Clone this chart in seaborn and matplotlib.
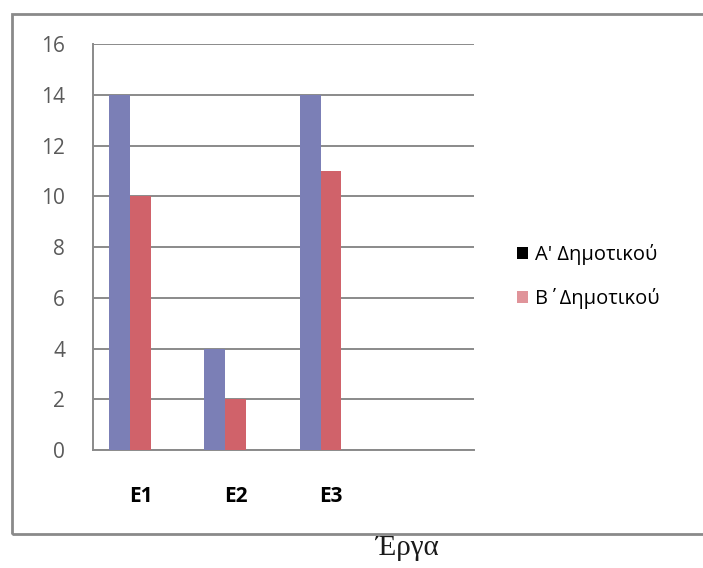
import matplotlib
matplotlib.use("Agg")
import matplotlib.pyplot as plt
import seaborn as sns
import pandas as pd
import numpy as np
from matplotlib.patches import Rectangle, Patch

# Data
categories = ["E1", "E2", "E3", ""]
series_a = [14, 4, 14, np.nan]
series_b = [10, 2, 11, np.nan]
series_c = [np.nan, np.nan, np.nan, np.nan]  # empty third series (keeps its slot)
series_names = ["Α' Δημοτικού", "Β΄Δημοτικού", "-"]
y_ticks = [0, 2, 4, 6, 8, 10, 12, 14, 16]
x_title = "Έργα"

rows = []
for name, vals in zip(series_names, [series_a, series_b, series_c]):
    for cat, v in zip(categories, vals):
        rows.append({"cat": cat, "series": name, "value": v})
df = pd.DataFrame(rows)

sns.set_theme(style="white")
plt.rcParams["font.family"] = ["Open Sans", "DejaVu Sans"]

fig = plt.figure(figsize=(7.03, 5.68), dpi=100)
ax = fig.add_axes([0.1323, 0.2077, 0.5417, 0.7148])

bar_colors = {"Α' Δημοτικού": "#7b7fb6", "Β΄Δημοτικού": "#d0626a", "-": "#ffffff"}
sns.barplot(data=df, x="cat", y="value", hue="series", order=categories,
            hue_order=series_names, palette=bar_colors, saturation=1, width=0.66, gap=0,
            errorbar=None, legend=False, ax=ax, zorder=3, linewidth=0)

ax.set_ylim(0, 16)
ax.set_xlim(-0.5, len(categories) - 0.5)
ax.set_yticks(y_ticks)
ax.set_yticklabels([str(t) for t in y_ticks], fontsize=15, color="#5a5a5a")
ax.yaxis.grid(True, color="#8a8a8a", linewidth=1.4, zorder=0)
ax.set_axisbelow(True)

# Category labels at slot centres, tick marks at slot boundaries
ax.set_xticks(np.arange(-0.5, len(categories), 1.0))
ax.set_xticklabels([])
ax.set_xticks(np.arange(len(categories)), minor=True)
ax.set_xticklabels(categories, minor=True, fontsize=15, fontweight="bold", color="black")
ax.tick_params(axis="x", which="major", length=7, width=1.2, color="#8a8a8a", direction="out")
ax.tick_params(axis="x", which="minor", length=0, pad=26)
ax.tick_params(axis="y", length=8, width=1.2, color="#8a8a8a", direction="out", pad=12)
ax.set_xlabel("")
ax.set_ylabel("")

for side in ["top", "right"]:
    ax.spines[side].set_visible(False)
for side in ["left", "bottom"]:
    ax.spines[side].set_color("#8a8a8a")
    ax.spines[side].set_linewidth(1.4)

# Legend
handles = [Patch(facecolor="black", edgecolor="none"),
           Patch(facecolor="#e0949a", edgecolor="none")]
fig.legend(handles, series_names[:2], loc="center left", bbox_to_anchor=(0.71, 0.513),
           frameon=False, fontsize=14.5, handlelength=0.55, handleheight=0.55,
           handletextpad=0.35, labelspacing=1.15, labelcolor="black")

# Outer chart border
fig.patches.append(Rectangle((0.017, 0.06), 1.2, 0.915, transform=fig.transFigure,
                             fill=False, edgecolor="#8a8a8a", linewidth=2))

fig.text(0.579, 0.035, x_title, ha="center", va="center", fontsize=21,
         family=["Liberation Serif", "DejaVu Serif"], color="#1a1a1a")

fig.savefig("out.png", dpi=100, facecolor="white")
